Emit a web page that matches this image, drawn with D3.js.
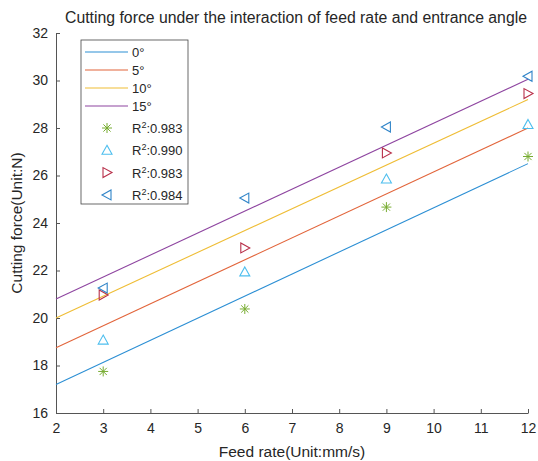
<!DOCTYPE html>
<html>
<head>
<meta charset="utf-8">
<script src="https://cdn.jsdelivr.net/npm/d3@7"></script>
<style>
  body { margin: 0; background: #fff; }
  text { font-family: "Liberation Sans", Arial, sans-serif; fill: #262626; }
</style>
</head>
<body>
<svg id="chart"></svg>
<script>
// fitted lines, evaluated at the ends of the x range
const angles = ["0°", "5°", "10°", "15°"];
const lineX = [2, 12];
const lineY = [
  [17.2, 26.5],
  [18.75, 28.0],
  [20.0, 29.2],
  [20.8, 30.05]
];
// measured points
const feedRates = [3, 6, 9, 12];
const measured = [
  [17.75, 20.38, 24.67, 26.8],
  [19.07, 21.94, 25.85, 28.15],
  [20.97, 22.95, 26.95, 29.45],
  [21.26, 25.05, 28.04, 30.18]
];
const r2 = ["0.983", "0.990", "0.983", "0.984"];
const xTicks = [2, 3, 4, 5, 6, 7, 8, 9, 10, 11, 12];
const yTicks = [16, 18, 20, 22, 24, 26, 28, 30, 32];

const lineColors = ["#2c8fd4", "#e2653b", "#efbd35", "#8e45a0"];
const markerColors = ["#77ac30", "#4dbeee", "#b8304a", "#2f84c8"];
const markerTypes = ["star", "up", "right", "left"];

const W = 538, H = 461;
const margin = { top: 33, right: 10, bottom: 48, left: 56 };
const width = W - margin.left - margin.right;
const height = H - margin.top - margin.bottom;

const svg = d3.select("#chart").attr("width", W).attr("height", H);
const g = svg.append("g").attr("transform", `translate(${margin.left}, ${margin.top})`);

const x = d3.scaleLinear().domain([2, 12]).range([0, width]);
const y = d3.scaleLinear().domain([16, 32]).range([height, 0]);

const axisColor = "#555";

const xAxis = g.append("g")
  .attr("transform", `translate(0, ${height})`)
  .call(d3.axisBottom(x).tickValues(xTicks).tickSizeInner(-4).tickSizeOuter(0).tickPadding(10));
const yAxis = g.append("g")
  .call(d3.axisLeft(y).tickValues(yTicks).tickSizeInner(-4).tickSizeOuter(0).tickPadding(8));

[xAxis, yAxis].forEach(a => {
  a.select(".domain").attr("stroke", axisColor);
  a.selectAll(".tick line").attr("stroke", axisColor);
  a.selectAll(".tick text").attr("fill", "#262626")
    .style("font-family", '"Liberation Sans", Arial, sans-serif').style("font-size", "14px");
});

// fitted lines
const line = d3.line().x(d => x(d[0])).y(d => y(d[1]));
lineY.forEach((ys, i) => {
  g.append("path")
    .datum(lineX.map((xv, j) => [xv, ys[j]]))
    .attr("d", line)
    .attr("fill", "none")
    .attr("stroke", lineColors[i])
    .attr("stroke-width", 1.1);
});

function marker(sel, type, color) {
  const s = 5;
  if (type === "star") {
    const d = s * 0.72;
    sel.append("path")
      .attr("d", `M${-s},0H${s}M0,${-s}V${s}M${-d},${-d}L${d},${d}M${-d},${d}L${d},${-d}`)
      .attr("stroke", color).attr("stroke-width", 1).attr("fill", "none");
  } else {
    let pts;
    if (type === "up") pts = [[0, -s], [s, s * 0.8], [-s, s * 0.8]];
    if (type === "right") pts = [[s, 0], [-s * 0.8, -s], [-s * 0.8, s]];
    if (type === "left") pts = [[-s, 0], [s * 0.8, -s], [s * 0.8, s]];
    sel.append("path")
      .attr("d", "M" + pts.map(p => p.join(",")).join("L") + "Z")
      .attr("stroke", color).attr("stroke-width", 1.1).attr("fill", "none");
  }
}

// measured points
measured.forEach((vals, i) => {
  g.selectAll(null)
    .data(vals.map((v, j) => [feedRates[j], v]))
    .enter()
    .append("g")
    .attr("transform", d => `translate(${x(d[0])}, ${y(d[1])})`)
    .each(function () { marker(d3.select(this), markerTypes[i], markerColors[i]); });
});

// legend
const legend = svg.append("g").attr("transform", "translate(81, 40)");
legend.append("rect")
  .attr("width", 107).attr("height", 164)
  .attr("fill", "#fff").attr("stroke", "#444").attr("stroke-width", 0.8);

angles.forEach((a, i) => {
  const ly = 12 + i * 18;
  legend.append("line")
    .attr("x1", 4).attr("x2", 47).attr("y1", ly).attr("y2", ly)
    .attr("stroke", lineColors[i]).attr("stroke-width", 1.1);
  legend.append("text")
    .attr("x", 51).attr("y", ly + 4.5)
    .style("font-size", "13px")
    .text(a);
});

r2.forEach((r, i) => {
  const ly = 88 + i * 22.3;
  const m = legend.append("g").attr("transform", `translate(26, ${ly})`);
  marker(m, markerTypes[i], markerColors[i]);
  const t = legend.append("text")
    .attr("x", 51).attr("y", ly + 5)
    .style("font-size", "13px");
  t.append("tspan").text("R");
  t.append("tspan").attr("dy", -5).style("font-size", "9px").text("2");
  t.append("tspan").attr("dy", 5).text(":" + r);
});

// title and axis labels
svg.append("text")
  .attr("x", 296).attr("y", 23)
  .attr("text-anchor", "middle")
  .style("font-size", "15.8px")
  .text("Cutting force under the interaction of feed rate and entrance angle");

svg.append("text")
  .attr("x", margin.left + width / 2).attr("y", 457)
  .attr("text-anchor", "middle")
  .style("font-size", "15.5px")
  .text("Feed rate(Unit:mm/s)");

svg.append("text")
  .attr("transform", `translate(22, ${margin.top + height / 2}) rotate(-90)`)
  .attr("text-anchor", "middle")
  .style("font-size", "15.5px")
  .text("Cutting force(Unit:N)");
</script>
</body>
</html>
